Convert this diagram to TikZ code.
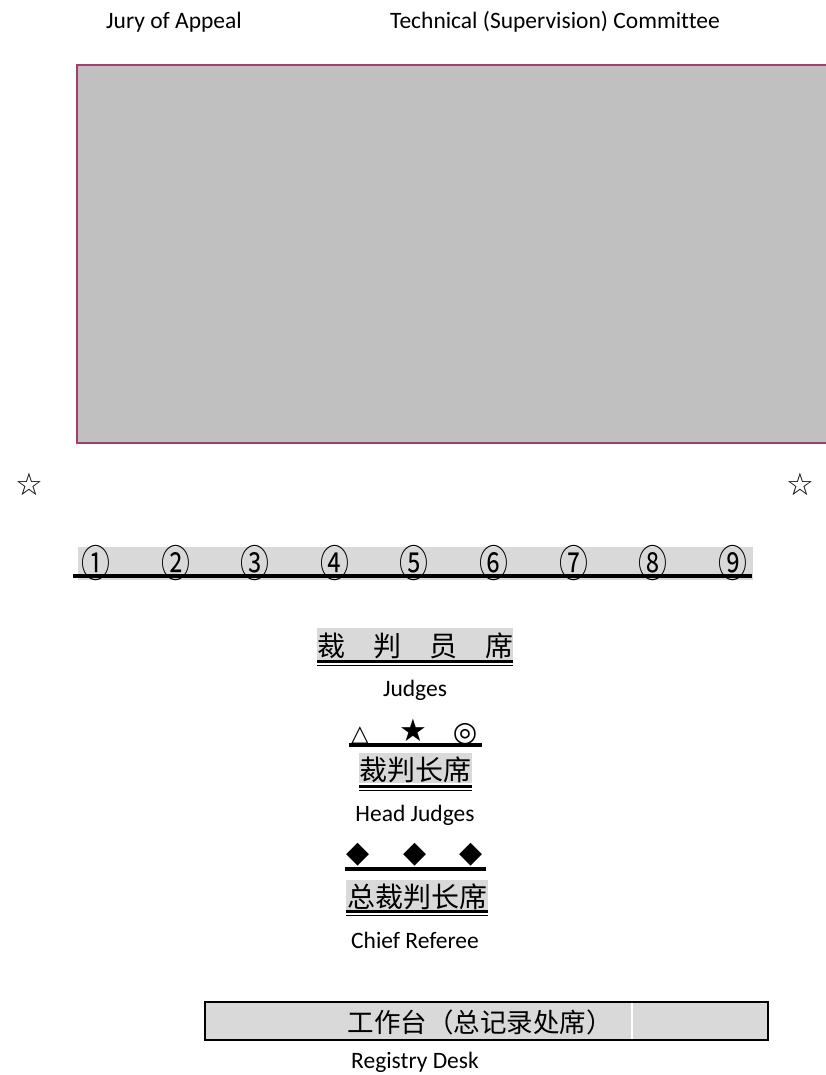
\documentclass[tikz,border=0pt]{standalone}
\usepackage{fontspec}
\usepackage{graphicx}
\setmainfont{Carlito}[Ligatures=NoCommon]
\newfontfamily\cjk{Noto Sans CJK SC}
\newfontfamily\symf{DejaVu Sans}
\definecolor{bandgray}{RGB}{217,217,217}
\definecolor{biggray}{RGB}{192,192,192}
\definecolor{rose}{RGB}{160,64,110}
\begin{document}
\begin{tikzpicture}[x=1pt,y=-1pt,
  en/.style={font=\fontsize{23.5}{28}\selectfont, inner sep=0pt},
  zh/.style={font=\cjk\fontsize{28}{32}\selectfont, inner sep=0pt},
  grayband/.style={fill=bandgray, draw=none, inner sep=0pt},
  sym/.style={inner sep=0pt},
  thickrule/.style={line width=3pt},
  thinrule/.style={line width=1.5pt}]
\useasboundingbox (0,0) rectangle (826,1075);

% titles
\node[en] (jury) at (174,22) {Jury of Appeal};
\node[en] (tech) at (555,22) {Technical (Supervision) Committee};

% stage area
\node[draw=rose, line width=2pt, fill=biggray, minimum width=752pt, minimum height=378pt, anchor=north west, inner sep=0pt] (stage) at (76,64) {};

% stars
\node[sym, font=\symf\fontsize{31}{34}\selectfont] (starL) at (29,484) {☆};
\node[sym, font=\symf\fontsize{31}{34}\selectfont] (starR) at (800,484) {☆};

% numbers row
\node[grayband, minimum width=675pt, minimum height=33pt, anchor=north west] (band) at (78,547) {};
\foreach \i/\c in {1/①,2/②,3/③,4/④,5/⑤,6/⑥,7/⑦,8/⑧,9/⑨}{
  \node[zh, font=\cjk\fontsize{34}{36}\selectfont] (n\i) at ({96+79.6*(\i-1)},563) {\scalebox{0.85}[1.12]{\c}};
}
\draw[line width=4pt] (73,576) -- (752,576);

% judges seats
\node[grayband, minimum width=196pt, minimum height=32pt] (jband) at (415,644) {};
\node[zh] (jtext) at (415,646) {裁　判　员　席};
\draw[thickrule] (317,661.5) -- (513,661.5);
\draw[thinrule] (317,665.5) -- (513,665.5);
\node[en] (judges) at (415,690) {Judges};

% head judges symbols
\node[sym, anchor=base, font=\symf\fontsize{23}{26}\selectfont] (tri) at (360,741) {△};
\node[sym, anchor=base, font=\symf\fontsize{31}{34}\selectfont] (bstar) at (413,741) {★};
\node[sym, anchor=base, font=\symf\fontsize{28}{30}\selectfont] (dcirc) at (465,741) {◎};
\draw[line width=3.5pt] (349,745) -- (482,745);

% head judges seats
\node[grayband, minimum width=113pt, minimum height=30pt] (hband) at (415.5,768) {};
\node[zh] (htext) at (415.5,770) {裁判长席};
\draw[thickrule] (359,786.5) -- (472,786.5);
\draw[thinrule] (359,790.5) -- (472,790.5);
\node[en] (headj) at (415,815) {Head Judges};

% chief referee symbols
\node[sym, font=\symf\fontsize{30}{34}\selectfont] (d1) at (358,855) {◆};
\node[sym, font=\symf\fontsize{30}{34}\selectfont] (d2) at (415,855) {◆};
\node[sym, font=\symf\fontsize{30}{34}\selectfont] (d3) at (471,855) {◆};
\draw[line width=3.5pt] (345,869) -- (486,869);

% chief referee seat
\node[grayband, minimum width=142pt, minimum height=30pt] (cband) at (417,895) {};
\node[zh] (ctext) at (417,897) {总裁判长席};
\draw[thickrule] (346,911.5) -- (488,911.5);
\draw[thinrule] (346,915.5) -- (488,915.5);
\node[en] (chief) at (415,940) {Chief Referee};

% registry desk
\node[draw, line width=2pt, fill=bandgray, minimum width=563pt, minimum height=38pt, inner sep=0pt] (desk) at (486,1021) {};
\coordinate (divtop) at (632,1003);
\coordinate (divbot) at (632,1039);
\draw[white, line width=1.5pt] (divtop) -- (divbot);
\node[zh, font=\cjk\fontsize{26.5}{30}\selectfont] (dtext) at (480,1022) {工作台（总记录处席）};
\node[en] (registry) at (415,1062) {Registry Desk};
\end{tikzpicture}
\end{document}
